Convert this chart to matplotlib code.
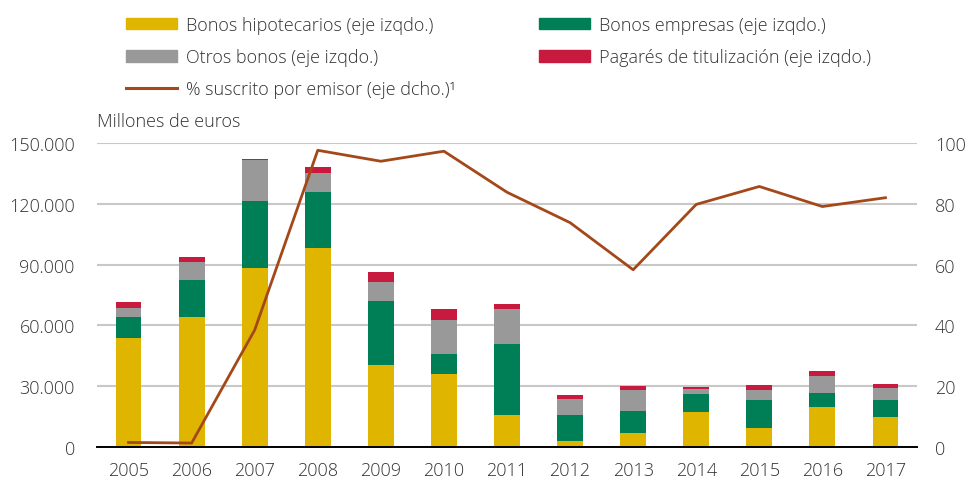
import numpy as np
import matplotlib.pyplot as plt
from matplotlib.patches import Patch
from matplotlib.lines import Line2D
from matplotlib.ticker import FuncFormatter

plt.rcParams['font.family'] = ['Open Sans', 'DejaVu Sans']
plt.rcParams['font.weight'] = 'light'

years = ['2005', '2006', '2007', '2008', '2009', '2010', '2011',
         '2012', '2013', '2014', '2015', '2016', '2017']

# millones de euros
hipotecarios = [53800, 64150, 88300, 98200, 40500, 36000, 15800,
                3000, 6900, 17300, 9400, 19700, 14800]
empresas = [10350, 18250, 33100, 27600, 31600, 9900, 35000,
            12800, 10900, 8900, 13800, 6900, 8400]
otros = [4450, 8900, 20400, 9400, 9350, 16800, 17300,
         7900, 10400, 2500, 4900, 8400, 5900]
pagares = [2950, 2450, 500, 3000, 4950, 5400, 2500,
           2000, 2000, 1000, 2500, 2500, 2000]

# % suscrito por emisor
suscrito = [1.5, 1.3, 38.5, 97.6, 94.0, 97.3, 83.8,
            73.8, 58.3, 79.8, 85.7, 79.1, 82.0]

c_hip = '#DFB500'
c_emp = '#007F56'
c_otr = '#999999'
c_pag = '#C8193F'
c_line = '#A4481A'
txt = '#333333'
fs = 13

fig = plt.figure(figsize=(9.68, 4.81), dpi=100)
ax = fig.add_axes([97 / 968, 33 / 481, 820 / 968, 304 / 481])

x = np.arange(len(years))
w = 0.41
b1 = np.array(hipotecarios)
b2 = b1 + np.array(empresas)
b3 = b2 + np.array(otros)
ax.bar(x, hipotecarios, w, color=c_hip, zorder=3)
ax.bar(x, empresas, w, bottom=b1, color=c_emp, zorder=3)
ax.bar(x, otros, w, bottom=b2, color=c_otr, zorder=3)
ax.bar(x, pagares, w, bottom=b3, color=c_pag, zorder=3)

ax.set_xlim(-0.5, 12.5)
ax.set_ylim(0, 150000)
ax.set_yticks(np.arange(0, 150001, 30000))
ax.yaxis.set_major_formatter(FuncFormatter(lambda v, p: f'{int(v):,}'.replace(',', '.')))
ax.set_xticks(x)
ax.set_xticklabels(years)
ax.grid(axis='y', color='#C8C8C8', linewidth=1.5, zorder=0)
for s in ['top', 'left', 'right']:
    ax.spines[s].set_visible(False)
ax.spines['bottom'].set_color('black')
ax.spines['bottom'].set_linewidth(1.4)
ax.spines['bottom'].set_zorder(5)
ax.tick_params(axis='both', length=0, labelsize=fs, labelcolor=txt)
ax.tick_params(axis='y', pad=16)
ax.tick_params(axis='x', pad=10)

ax2 = ax.twinx()
ax2.plot(x, suscrito, color=c_line, linewidth=2.0, zorder=4)
ax2.set_ylim(0, 100)
ax2.set_yticks(np.arange(0, 101, 20))
for s in ax2.spines.values():
    s.set_visible(False)
ax2.tick_params(axis='y', length=0, labelsize=fs, labelcolor=txt, pad=13)

fig.text(97 / 968, 1 - 122 / 481, 'Millones de euros', fontsize=fs, color=txt,
         ha='left', va='center')

h1 = [Patch(color=c_hip), Patch(color=c_otr), Line2D([], [], color=c_line, linewidth=2.2)]
l1 = ['Bonos hipotecarios (eje izqdo.)', 'Otros bonos (eje izqdo.)',
      '% suscrito por emisor (eje dcho.)¹']
h2 = [Patch(color=c_emp), Patch(color=c_pag)]
l2 = ['Bonos empresas (eje izqdo.)', 'Pagarés de titulización (eje izqdo.)']

common = dict(frameon=False, fontsize=fs, labelcolor=txt, handlelength=2.8,
              handleheight=0.62, handletextpad=0.5, labelspacing=0.78,
              borderpad=0, borderaxespad=0, loc='upper left')
leg1 = fig.legend(h1, l1, bbox_to_anchor=(126 / 968, 1 - 17 / 481), **common)
leg2 = fig.legend(h2, l2, bbox_to_anchor=(539 / 968, 1 - 17 / 481), **common)

fig.savefig('out.png', dpi=100)
